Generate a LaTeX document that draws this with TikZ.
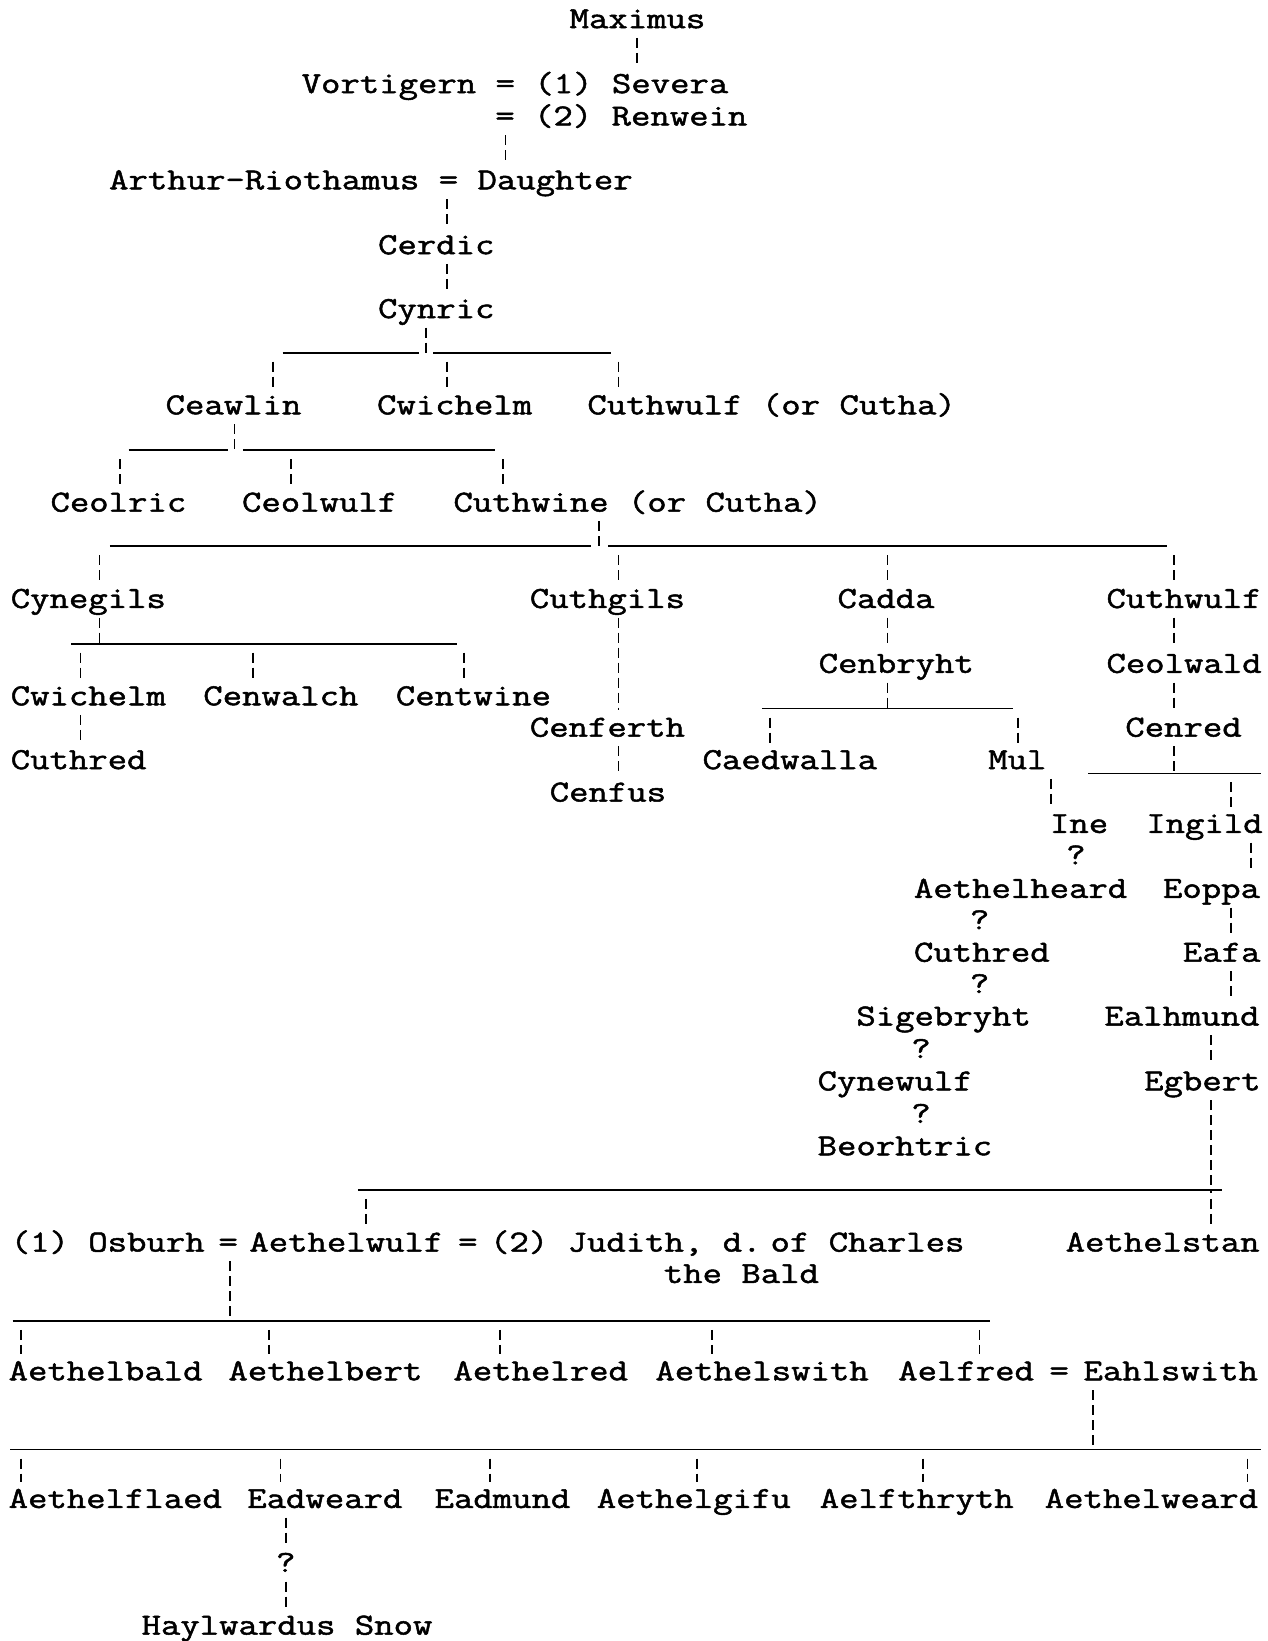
\documentclass[tikz,border=0pt]{standalone}
\usepackage{fontspec}
\newfontfamily\typefont{Latin Modern Mono}[FakeBold=1.6,FakeStretch=1.23]
\begin{document}
\begin{tikzpicture}[x=1.0462pt,y=-1.0462pt,
	tx/.style={inner sep=0pt,text height=26pt,text depth=9.5pt,font=\typefont\fontsize{30.6}{36}\selectfont},
	nm/.style={tx,anchor=west,xshift=-2pt},
	qm/.style={tx},
	kin/.style={line width=1.8pt,dash pattern=on 10pt off 5pt},
	dn/.style={kin,shorten <=9pt},
	bar/.style={line width=1.8pt}]
	\useasboundingbox[fill=white] (0,0) rectangle (1211,1568);
	\node[nm] (maximus) at (546,19) {Maximus};
	\node[nm] (vortigern) at (290,81) {Vortigern = (1) Severa};
	\node[nm] (renwein) at (475,112) {= (2) Renwein};
	\node[nm] (arthur) at (106,173) {Arthur-Riothamus = Daughter};
	\node[nm] (cerdic) at (363,235) {Cerdic};
	\node[nm] (cynric) at (363,296) {Cynric};
	\node[nm] (ceawlin) at (160,388) {Ceawlin};
	\node[nm] (cwichelm) at (362,388) {Cwichelm};
	\node[nm] (cuthwulf) at (563,388) {Cuthwulf (or Cutha)};
	\node[nm] (ceolric) at (50,481) {Ceolric};
	\node[nm] (ceolwulf) at (233,481) {Ceolwulf};
	\node[nm] (cuthwine) at (435,481) {Cuthwine (or Cutha)};
	\node[nm] (cynegils) at (12,573) {Cynegils};
	\node[nm] (cuthgils) at (508,573) {Cuthgils};
	\node[nm] (cadda) at (802,573) {Cadda};
	\node[nm] (cuthwulfb) at (1059,573) {Cuthwulf};
	\node[nm] (cenbryht) at (784,635) {Cenbryht};
	\node[nm] (ceolwald) at (1059,635) {Ceolwald};
	\node[nm] (cwichelmb) at (12,666) {Cwichelm};
	\node[nm] (cenwalch) at (196,666) {Cenwalch};
	\node[nm] (centwine) at (380,666) {Centwine};
	\node[nm] (cenferth) at (508,696) {Cenferth};
	\node[nm] (cenred) at (1077,696) {Cenred};
	\node[nm] (cuthred) at (12,727) {Cuthred};
	\node[nm] (caedwalla) at (673,727) {Caedwalla};
	\node[nm] (mul) at (946,727) {Mul};
	\node[nm] (cenfus) at (527,758) {Cenfus};
	\node[nm] (ine) at (1005,788) {Ine};
	\node[nm] (ingild) at (1097,788) {Ingild};
	\node[qm] (q1) at (1028,818) {?};
	\node[nm] (aethelheard) at (875,850) {Aethelheard};
	\node[nm] (eoppa) at (1113,850) {Eoppa};
	\node[qm] (q2) at (936,880) {?};
	\node[nm] (cuthredb) at (875,911) {Cuthred};
	\node[nm] (eafa) at (1132,911) {Eafa};
	\node[qm] (q3) at (936,941) {?};
	\node[nm] (sigebryht) at (820,972) {Sigebryht};
	\node[nm] (ealhmund) at (1057,972) {Ealhmund};
	\node[qm] (q4) at (880,1003) {?};
	\node[nm] (cynewulf) at (783,1034) {Cynewulf};
	\node[nm] (egbert) at (1095,1034) {Egbert};
	\node[qm] (q5) at (880,1065) {?};
	\node[nm] (beorhtric) at (783,1096) {Beorhtric};
	\node[nm] (osburh) at (12,1188) {(1) Osburh};
	\node[qm] (eqa) at (218,1188) {=};
	\node[nm] (aethelwulf) at (240,1188) {Aethelwulf};
	\node[qm] (eqb) at (447,1188) {=};
	\node[nm] (judith) at (470,1188) {(2) Judith, d.};
	\node[nm] (charles) at (738,1188) {of Charles};
	\node[nm] (bald) at (636,1218) {the Bald};
	\node[nm] (aethelstan) at (1020,1188) {Aethelstan};
	\node[nm] (aethelbald) at (10,1311) {Aethelbald};
	\node[nm] (aethelbert) at (220,1311) {Aethelbert};
	\node[nm] (aethelred) at (435,1311) {Aethelred};
	\node[nm] (aethelswith) at (628,1311) {Aethelswith};
	\node[nm] (aelfred) at (860,1311) {Aelfred};
	\node[qm] (eqc) at (1012,1311) {=};
	\node[nm] (eahlswith) at (1037,1311) {Eahlswith};
	\node[nm] (aethelflaed) at (10,1433) {Aethelflaed};
	\node[nm] (eadweard) at (238,1433) {Eadweard};
	\node[nm] (eadmund) at (417,1433) {Eadmund};
	\node[nm] (aethelgifu) at (572,1433) {Aethelgifu};
	\node[nm] (aelfthryth) at (785,1433) {Aelfthryth};
	\node[nm] (aethelweard) at (1000,1433) {Aethelweard};
	\node[qm] (q6) at (273,1494) {?};
	\node[nm] (haylwardus) at (137,1554) {Haylwardus Snow};
	% top line
	\draw[kin] (maximus.south -| 609,0) -- (vortigern.north -| 609,0);
	\draw[kin] (renwein.south -| 483,0) -- (arthur.north -| 483,0);
	\draw[kin] (arthur.south -| 427,0) -- (cerdic.north -| 427,0);
	\draw[kin] (cerdic.south -| 427,0) -- (cynric.north -| 427,0);
	\draw[kin] (cynric.south -| 407,0) -- (407,340);
	\draw[bar] (270,337) -- (400,337) (414,337) -- (584,337);
	\foreach \x/\n in {261/ceawlin,427/cwichelm,591/cuthwulf}
		\draw[dn] (\x,337) -- (\n.north -| \x,0);
	\draw[kin] (ceawlin.south -| 224,0) -- (224,432);
	\draw[bar] (123,430) -- (218,430) (232,430) -- (473,430);
	\foreach \x/\n in {115/ceolric,278/ceolwulf,481/cuthwine}
		\draw[dn] (\x,430) -- (\n.north -| \x,0);
	\draw[kin] (cuthwine.south -| 572,0) -- (572,525);
	\draw[bar] (105,522) -- (565,522) (581,522) -- (1115,522);
	\foreach \x/\n in {95/cynegils,591/cuthgils,848/cadda,1122/cuthwulfb}
		\draw[dn] (\x,522) -- (\n.north -| \x,0);
	% Cynegils
	\draw[kin] (cynegils.south -| 95,0) -- (95,615);
	\draw[bar] (68,615) -- (437,615);
	\foreach \x/\n in {77/cwichelmb,242/cenwalch,443/centwine}
		\draw[dn] (\x,615) -- (\n.north -| \x,0);
	\draw[kin] (cwichelmb.south -| 77,0) -- (cuthred.north -| 77,0);
	% Cuthgils
	\draw[kin] (cuthgils.south -| 591,0) -- (cenferth.north -| 591,0);
	\draw[kin] (cenferth.south -| 591,0) -- (cenfus.north -| 591,0);
	% Cadda
	\draw[kin] (cadda.south -| 848,0) -- (cenbryht.north -| 848,0);
	\draw[kin] (cenbryht.south -| 848,0) -- (848,677);
	\draw[bar] (728,677) -- (968,677);
	\foreach \x/\n in {736/caedwalla,973/mul}
		\draw[dn] (\x,677) -- (\n.north -| \x,0);
	\draw[kin] (mul.south -| 1004,0) -- (ine.north -| 1004,0);
	% Cuthwulf
	\draw[kin] (cuthwulfb.south -| 1122,0) -- (ceolwald.north -| 1122,0);
	\draw[kin] (ceolwald.south -| 1122,0) -- (cenred.north -| 1122,0);
	\draw[kin] (cenred.south -| 1122,0) -- (1122,741);
	\draw[bar] (1040,739) -- (1205,739);
	\draw[dn] (1176,739) -- (ingild.north -| 1176,0);
	\draw[kin] (ingild.south -| 1195,0) -- (eoppa.north -| 1195,0);
	\draw[kin] (eoppa.south -| 1176,0) -- (eafa.north -| 1176,0);
	\draw[kin] (eafa.south -| 1176,0) -- (ealhmund.north -| 1176,0);
	\draw[kin] (ealhmund.south -| 1157,0) -- (egbert.north -| 1157,0);
	% Egbert
	\draw[kin] (egbert.south -| 1157,0) -- (1157,1140);
	\draw[bar] (342,1137) -- (1168,1137);
	\foreach \x/\n in {350/aethelwulf,1157/aethelstan}
		\draw[dn] (\x,1137) -- (\n.north -| \x,0);
	% Aethelwulf
	\draw[kin] (eqa.south -| 220,0) -- (220,1262);
	\draw[bar] (12,1262) -- (946,1262);
	\foreach \x/\n in {20/aethelbald,257/aethelbert,478/aethelred,680/aethelswith,936/aelfred}
		\draw[dn] (\x,1262) -- (\n.north -| \x,0);
	% Aelfred
	\draw[kin] (eahlswith.south -| 1044,0) -- (1044,1385);
	\draw[bar] (10,1385) -- (1205,1385);
	\foreach \x/\n in {20/aethelflaed,268/eadweard,468/eadmund,666/aethelgifu,882/aelfthryth,1192/aethelweard}
		\draw[dn] (\x,1385) -- (\n.north -| \x,0);
	\draw[kin] (eadweard.south -| 273,0) -- (q6.north);
	\draw[kin] (q6.south) -- (haylwardus.north -| 273,0);
\end{tikzpicture}
\end{document}
